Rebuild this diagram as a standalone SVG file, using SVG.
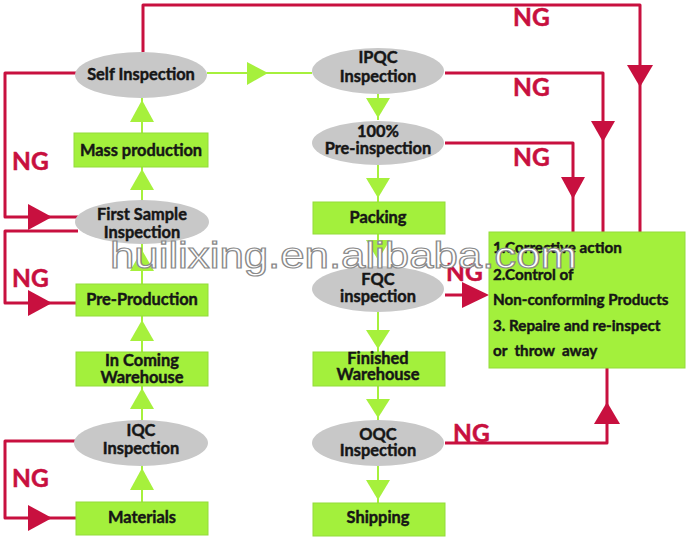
<svg xmlns="http://www.w3.org/2000/svg" width="688" height="539" viewBox="0 0 688 539">
<style>
.box{fill:#a3f03c;stroke:#93dc3a;stroke-width:1}
.ell{fill:#c8c8c8}
.t{font-family:Lato,"Liberation Sans",sans-serif;font-weight:700;font-size:16.4px;fill:#161616;stroke:#161616;stroke-width:0.45;text-anchor:middle}
.rt{font-family:Lato,"Liberation Sans",sans-serif;font-weight:700;font-size:15.2px;fill:#161616;stroke:#161616;stroke-width:0.45}
.ng{font-family:Lato,"Liberation Sans",sans-serif;font-weight:700;font-size:24.5px;fill:#c8103f;stroke:#c8103f;stroke-width:0.5}
.rl{fill:none;stroke:#c8103f;stroke-width:3;stroke-linejoin:round}
.ra{fill:#c8103f}
.gl{fill:none;stroke:#a6f03c;stroke-width:2}
.ga{fill:#a6f03c}
.wm{font-family:"Liberation Sans",Arial,sans-serif;font-size:36px;fill:#ffffff;stroke:#8a8a8a;stroke-width:1.2}
</style>
<rect width="688" height="539" fill="#ffffff"/>

<g id="connectors">
  <path class="gl" d="M142 98V133 M142 167V201 M142 243V284 M142 316V352 M142 386V420 M142 466V502"/>
  <polygon class="ga" points="142,100 130,122 154,122"/>
  <polygon class="ga" points="142,169 130,190 154,190"/>
  <polygon class="ga" points="142,250 130,271 154,271"/>
  <polygon class="ga" points="142,320 130,341 154,341"/>
  <polygon class="ga" points="142,388 130,409 154,409"/>
  <polygon class="ga" points="142,468 130,490 154,490"/>
  <path class="gl" d="M207 73H312"/>
  <polygon class="ga" points="268,73 247,62 247,85"/>
  <path class="gl" d="M378 94V120 M378 165V202 M378 234V266 M378 312V352 M378 386V420 M378 466V503"/>
  <polygon class="ga" points="378,118 366,98 390,98"/>
  <polygon class="ga" points="378,198 366,178 390,178"/>
  <polygon class="ga" points="378,260 366,240 390,240"/>
  <polygon class="ga" points="378,349 366,330 390,330"/>
  <polygon class="ga" points="378,418 366,399 390,399"/>
  <polygon class="ga" points="378,500 366,480 390,480"/>

  <path class="rl" d="M143 52V5H640V232"/>
  <polygon class="ra" points="640,87 627,65 653,65"/>
  <path class="rl" d="M445 73H603V232"/>
  <polygon class="ra" points="603,142 591,121 615,121"/>
  <path class="rl" d="M445 143H573V232"/>
  <polygon class="ra" points="573,199 561,177 585,177"/>
  <path class="rl" d="M445 295H470"/>
  <polygon class="ra" points="489,295 462,282 462,308"/>
  <path class="rl" d="M445 443H607V368"/>
  <polygon class="ra" points="607,402 594,424 620,424"/>

  <path class="rl" d="M76 73H5V217H78"/>
  <polygon class="ra" points="52,217 28,204 28,230"/>
  <path class="rl" d="M78 231H5V303H78"/>
  <polygon class="ra" points="52,303 28,290 28,316"/>
  <path class="rl" d="M76 441H5V518H78"/>
  <polygon class="ra" points="52,518 28,505 28,531"/>
</g>

<g id="ng-labels">
  <text class="ng" x="513" y="26">NG</text>
  <text class="ng" x="513" y="96">NG</text>
  <text class="ng" x="513" y="166">NG</text>
  <text class="ng" x="446" y="281">NG</text>
  <text class="ng" x="453" y="442">NG</text>
  <text class="ng" x="12" y="170">NG</text>
  <text class="ng" x="12" y="287">NG</text>
  <text class="ng" x="12" y="487">NG</text>
</g>

<g id="self-inspection"><ellipse class="ell" cx="141" cy="75" rx="66" ry="23"/><text class="t" x="141" y="80">Self Inspection</text></g>
<g id="mass-production"><rect class="box" x="74" y="133" width="134" height="34"/><text class="t" x="141" y="156">Mass production</text></g>
<g id="first-sample"><ellipse class="ell" cx="142" cy="222" rx="67" ry="22"/><text class="t" x="142" y="220">First Sample</text><text class="t" x="142" y="238">Inspection</text></g>
<g id="pre-production"><rect class="box" x="76" y="284" width="132" height="32"/><text class="t" x="142" y="305">Pre-Production</text></g>
<g id="incoming-warehouse"><rect class="box" x="76" y="352" width="132" height="34"/><text class="t" x="142" y="366">In Coming</text><text class="t" x="142" y="383">Warehouse</text></g>
<g id="iqc"><ellipse class="ell" cx="141" cy="443" rx="67" ry="23"/><text class="t" x="141" y="436">IQC</text><text class="t" x="141" y="454">Inspection</text></g>
<g id="materials"><rect class="box" x="76" y="502" width="132" height="33"/><text class="t" x="142" y="523">Materials</text></g>

<g id="ipqc"><ellipse class="ell" cx="378" cy="71" rx="66" ry="23"/><text class="t" x="378" y="63">IPQC</text><text class="t" x="378" y="82">Inspection</text></g>
<g id="pre-inspection"><ellipse class="ell" cx="378" cy="143" rx="66" ry="22"/><text class="t" x="378" y="137">100%</text><text class="t" x="378" y="154">Pre-inspection</text></g>
<g id="packing"><rect class="box" x="313" y="202" width="132" height="32"/><text class="t" x="378" y="223">Packing</text></g>
<g id="fqc"><ellipse class="ell" cx="378" cy="289" rx="66" ry="23"/><text class="t" x="378" y="285">FQC</text><text class="t" x="378" y="302">inspection</text></g>
<g id="finished-warehouse"><rect class="box" x="313" y="352" width="132" height="34"/><text class="t" x="378" y="364">Finished</text><text class="t" x="378" y="380">Warehouse</text></g>
<g id="oqc"><ellipse class="ell" cx="378" cy="443" rx="66" ry="23"/><text class="t" x="378" y="440">OQC</text><text class="t" x="378" y="456">Inspection</text></g>
<g id="shipping"><rect class="box" x="313" y="503" width="132" height="33"/><text class="t" x="378" y="523">Shipping</text></g>

<g id="corrective-box">
  <rect class="box" x="489" y="232" width="196" height="136"/>
  <text class="rt" x="493" y="253">1.Corrective  action</text>
  <text class="rt" x="493" y="280">2.Control of</text>
  <text class="rt" x="493" y="305">Non-conforming Products</text>
  <text class="rt" x="493" y="331">3. Repaire and re-inspect</text>
  <text class="rt" x="493" y="356" xml:space="preserve">or  throw  away</text>
</g>

<text class="wm" x="110" y="268" textLength="467" lengthAdjust="spacingAndGlyphs">huilixing.en.alibaba.com</text>
</svg>
